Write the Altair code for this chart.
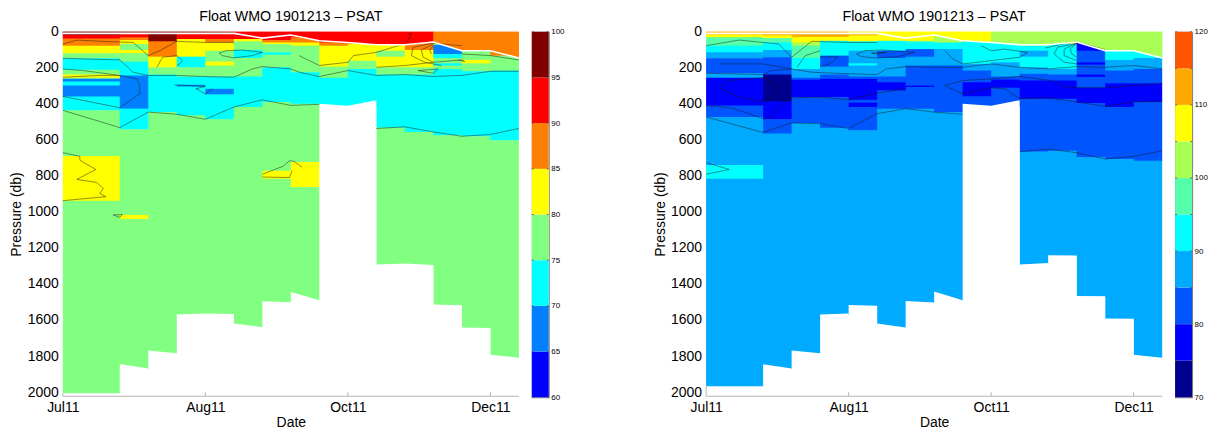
import altair as alt
import pandas as pd

FONT = "Liberation Sans"
TITLE = "Float WMO 1901213 \u2013 PSAT"
TICK_POS = [0, 5, 10, 15]
TICK_LABELS = ["Jul11", "Aug11", "Oct11", "Dec11"]
Y_TICKS = list(range(0, 2001, 200))
COL_STARTS = [0, 2, 3, 4, 5, 6, 7, 8, 9, 10, 11, 12, 13, 14, 15]
COL_ENDS = [2, 3, 4, 5, 6, 7, 8, 9, 10, 11, 12, 13, 14, 15, 16]

LEFT_LEVELS = [60, 65, 70, 75, 80, 85, 90, 95]
LEFT_COLORS = ["#0000ff", "#0080ff", "#00ffff", "#80ff80", "#ffff00", "#ff8000", "#ff0000", "#800000"]
RIGHT_LEVELS = [70, 75, 80, 85, 90, 95, 100, 105, 110, 115]
RIGHT_COLORS = ["#00008f", "#0000ff", "#0055ff", "#00aaff", "#00ffff", "#55ffaa", "#aaff55", "#ffff00", "#ffaa00", "#ff5500"]

# per column: bottom pressure of each colour layer, and the layer's 5-unit bin
LEFT_BOTTOMS = [
    [18, 37, 77, 119, 147, 211, 237, 255, 261, 276, 298, 358, 435, 688, 937, 2020],
    [13, 31, 46, 68, 101, 119, 165, 242, 426, 540, 1015, 1037, 2020],
    [53, 138, 197, 237, 445, 2020],
    [13, 40, 138, 197, 248, 294, 303, 463, 2020],
    [40, 59, 105, 165, 187, 248, 316, 347, 485, 2020],
    [40, 53, 101, 145, 248, 417, 2020],
    [46, 59, 68, 114, 127, 197, 389, 770, 815, 2020],
    [31, 59, 77, 224, 399, 722, 860, 2020],
    [59, 77, 193, 255, 2020],
    [59, 68, 160, 206, 2020],
    [72, 105, 138, 197, 237, 530, 2020],
    [59, 101, 197, 237, 555, 2020],
    [59, 73, 123, 145, 175, 187, 206, 573, 2020],
    [105, 156, 175, 219, 579, 2020],
    [132, 215, 601, 2020],
]
LEFT_BINS = [
    [95, 90, 85, 80, 75, 70, 75, 80, 75, 65, 70, 65, 70, 75, 80, 75],
    [95, 90, 85, 80, 75, 80, 75, 70, 65, 70, 75, 80, 75],
    [95, 85, 80, 75, 70, 75],
    [95, 90, 80, 70, 75, 70, 65, 70, 75],
    [90, 85, 80, 75, 80, 75, 70, 65, 70, 75],
    [90, 80, 75, 70, 75, 70, 75],
    [90, 85, 80, 75, 70, 75, 70, 75, 80, 75],
    [90, 85, 80, 75, 70, 75, 80, 75],
    [90, 85, 80, 75, 70],
    [90, 85, 80, 75, 70],
    [90, 80, 75, 80, 75, 70, 75],
    [90, 85, 80, 75, 70, 75],
    [85, 75, 65, 70, 75, 70, 75, 70, 75],
    [85, 75, 80, 75, 70, 75],
    [85, 75, 70, 75],
]
RIGHT_BOTTOMS = [
    [15, 31, 77, 114, 147, 230, 255, 408, 472, 738, 815, 2020],
    [20, 35, 59, 101, 141, 237, 386, 485, 564, 2020],
    [28, 59, 77, 145, 206, 255, 266, 362, 505, 2020],
    [28, 50, 132, 193, 237, 261, 362, 532, 2020],
    [20, 53, 105, 175, 187, 248, 261, 377, 393, 417, 546, 2020],
    [50, 105, 145, 248, 279, 325, 426, 2020],
    [50, 59, 96, 138, 187, 298, 306, 426, 2020],
    [15, 59, 96, 187, 445, 2020],
    [33, 178, 215, 279, 358, 2020],
    [50, 169, 248, 265, 310, 2020],
    [77, 105, 138, 197, 233, 270, 371, 663, 2020],
    [68, 206, 237, 270, 371, 660, 2020],
    [59, 105, 169, 182, 237, 250, 310, 395, 695, 2020],
    [105, 156, 215, 285, 417, 705, 2020],
    [105, 114, 145, 206, 285, 389, 715, 2020],
]
RIGHT_BINS = [
    [110, 105, 95, 90, 85, 80, 85, 75, 80, 85, 90, 85],
    [110, 105, 95, 90, 85, 80, 70, 75, 80, 85],
    [110, 105, 100, 95, 90, 85, 80, 75, 80, 85],
    [110, 105, 90, 80, 85, 80, 75, 80, 85],
    [110, 105, 90, 85, 90, 85, 80, 75, 80, 75, 80, 85],
    [105, 90, 80, 85, 80, 75, 80, 85],
    [105, 95, 90, 80, 85, 80, 75, 80, 85],
    [105, 100, 90, 85, 80, 85],
    [105, 90, 85, 80, 75, 80],
    [100, 90, 85, 80, 75, 80],
    [100, 90, 85, 90, 85, 80, 75, 80, 85],
    [100, 90, 85, 80, 75, 80, 85],
    [100, 75, 80, 75, 80, 75, 80, 75, 80, 85],
    [100, 90, 85, 80, 75, 80, 85],
    [100, 95, 90, 85, 80, 75, 80, 85],
]

# lower edge of the sampled water column (and the data gap): left and right end of each column
LEFT_MASK_A = [2003, 1841, 1766, 1567, 1562, 1617, 1494, 1442, 399, 410, 1290, 1284, 1512, 1639, 1790]
LEFT_MASK_B = [2003, 1866, 1781, 1562, 1564, 1637, 1499, 1488, 410, 379, 1284, 1293, 1516, 1641, 1806]
RIGHT_MASK_A = [1965, 1843, 1766, 1567, 1514, 1617, 1492, 1440, 399, 410, 1290, 1238, 1464, 1589, 1790]
RIGHT_MASK_B = [1965, 1866, 1781, 1562, 1518, 1639, 1501, 1488, 410, 379, 1282, 1240, 1466, 1591, 1806]

# white mixed-layer line
MLD_X = list(range(17))
MLD_P = [9, 9, 9, 9, 9, 9, 9, 35, 18, 50, 59, 72, 72, 57, 105, 105, 145]
LEFT_SURFACE = [(0, 6, 95), (6, 13, 90), (13, 16, 85)]
RIGHT_SURFACE = [(0, 5, 110), (5, 10, 105), (10, 16, 100)]

LEFT_CONTOURS = [
    ([0, 2, 3, 4, 5, 6, 7, 8, 9], [435, 531, 445, 457, 485, 417, 377, 408, 402]),
    ([11, 12, 13, 14, 15, 16], [536, 527, 555, 579, 569, 536]),
    ([0, 2, 2.47, 3, 4, 5, 6, 6.65, 7, 8, 8.3, 9, 10, 11, 12, 13, 14, 15, 16],
     [147, 156, 224, 242, 242, 248, 252, 206, 193, 206, 224, 248, 215, 242, 237, 248, 242, 219, 219]),
    ([0, 2, 2.7, 2.7, 2.6, 2], [358, 421, 344, 298, 261, 242]),
    ([0, 0.5, 1.65, 2.47, 3], [68, 46, 55, 59, 132]),
    ([3, 3.4, 4, 5, 6], [132, 105, 53, 59, 59]),
    ([3.3, 3.5, 4, 4.2, 4.1, 4], [197, 141, 132, 160, 178, 187]),
    ([5.49, 5.72, 6.3, 7, 6.65, 6, 5.6, 5.49], [118, 105, 101, 114, 132, 145, 132, 118]),
    ([3.92, 5, 4.67, 5, 5.26], [294, 303, 316, 344, 316]),
    ([0, 0.72, 2], [206, 215, 242]),
    ([0, 1.3, 2], [252, 242, 242]),
    ([0, 0.6, 0.6, 1.16, 0.49, 1.19, 1.42, 1.3, 1.51, 0], [670, 690, 712, 763, 818, 835, 868, 896, 914, 936]),
    ([1.77, 2.09, 2, 1.77], [1015, 1013, 1028, 1015]),
    ([7, 7.73, 7.95, 8.11, 8.39], [790, 745, 715, 718, 750]),
    ([7, 7.95, 8.05], [805, 808, 770]),
    ([8.29, 9, 10, 10.2, 11, 11.77, 12], [132, 187, 169, 132, 114, 77, 68]),
    ([11, 12, 13, 14, 14.1, 13.87], [197, 187, 169, 156, 165, 156]),
    ([12.47, 13.17, 13, 12.47], [215, 206, 230, 215]),
    ([13, 12.87, 12.93], [77, 101, 123]),
    ([13, 12.58, 12.64, 13], [68, 101, 141, 169]),
    ([13, 12.29, 12.23, 12.7, 13.28], [62, 86, 132, 169, 187]),
    ([12.12, 12.23, 12.06], [13, 10, 59]),
    ([13, 14], [64, 77]),
    ([14, 15, 16], [123, 132, 156]),
]
RIGHT_CONTOURS = [
    ([0, 2, 3, 4, 5, 6, 7, 8, 9], [472, 558, 505, 509, 536, 454, 426, 445, 457]),
    ([11, 12, 13, 14, 15, 16], [371, 366, 389, 413, 389, 386]),
    ([11, 12, 13, 14, 15, 16], [665, 650, 670, 705, 690, 660]),
    ([2, 2.26, 2.55, 3, 4, 5, 6, 7], [481, 476, 417, 366, 362, 377, 340, 316]),
    ([0, 0.92, 2], [408, 423, 481]),
    ([0.45, 0.8, 2, 2.43, 2.49, 2.31, 2, 1.15, 0.45], [310, 270, 255, 288, 325, 362, 386, 362, 310]),
    ([0, 2, 2.3, 3, 3.7, 5, 6, 6.33, 7, 8, 9, 10, 11, 12, 13, 14, 15, 16],
     [230, 237, 215, 206, 224, 233, 237, 206, 193, 197, 197, 178, 197, 206, 193, 197, 187, 206]),
    ([0.45, 2, 3], [178, 178, 206]),
    ([0, 1.15, 2, 2.55, 3], [77, 46, 59, 68, 141]),
    ([3, 3.7, 5, 6], [141, 53, 59, 59]),
    ([5.28, 5.57, 6.15, 7.31, 6.73, 6, 5.45, 5.28], [123, 105, 101, 114, 138, 145, 138, 123]),
    ([5.8, 6.33, 6.03, 5.8], [118, 114, 123, 118]),
    ([4, 4.64, 4.35, 4], [141, 138, 178, 193]),
    ([3.19, 3.48, 4], [197, 132, 105]),
    ([8.37, 8.66, 9, 10, 11, 11.28, 10.47, 10, 9.65], [105, 151, 178, 160, 141, 114, 96, 105, 77]),
    ([8.37, 9, 10, 11, 12.09, 12.67, 14, 16], [298, 270, 261, 248, 270, 310, 310, 285]),
    ([8.37, 9, 10, 10.47, 11], [298, 344, 310, 316, 371]),
    ([13, 12.33, 12.21, 12.56, 13], [64, 86, 123, 169, 178]),
    ([13, 12.56, 12.56, 13], [64, 96, 132, 160]),
    ([13, 12.77, 12.83, 13], [64, 96, 123, 141]),
    ([11.9, 12.5, 13, 14], [90, 68, 55, 100]),
    ([0, 0.81, 0], [725, 763, 790]),
]

X_SCALE = alt.Scale(domain=[0, 16], nice=False, zero=False)
Y_SCALE = alt.Scale(domain=[2020, 0], nice=False, zero=False)
GRAY = "#b4b4b4"
X_ENC = alt.X("x:Q", scale=X_SCALE)
Y_ENC = alt.Y("p:Q", scale=Y_SCALE)


def panel(bottoms, bins, mask_a, mask_b, surface, contours, levels, colors, floor):
    cells = []
    for c0, c1, bots, vals, ma, mb in zip(COL_STARTS, COL_ENDS, bottoms, bins, mask_a, mask_b):
        top = 0
        limit = max(ma, mb) + 3
        for b, v in zip(bots, vals):
            # a hair of overlap hides antialiasing seams between neighbouring cells
            if top < limit:
                cells.append({"x": c0, "x2": min(c1 + 0.03, 16), "p": top, "p2": min(b + 3, limit), "v": v})
            top = b
    color = alt.Color("v:O", scale=alt.Scale(domain=levels, range=colors), legend=None)
    label_expr = " : ".join(f"datum.value == {p} ? '{t}'" for p, t in zip(TICK_POS, TICK_LABELS)) + " : ''"
    base_x = alt.X("x:Q", scale=X_SCALE, axis=alt.Axis(
        values=TICK_POS, labelExpr=label_expr, title="Date", grid=False, ticks=False,
        domain=False, labelFontSize=14, titleFontSize=14,
        labelPadding=4, titlePadding=1, labelFont=FONT, titleFont=FONT, labelColor="#000", titleColor="#000",
        titleFontWeight="normal", labelOverlap=False, labelFlush=False))
    base_y = alt.Y("p:Q", scale=Y_SCALE, axis=alt.Axis(
        title="Pressure (db)", grid=False, ticks=False, domain=False, labels=False,
        titleFontSize=14, titlePadding=39, titleFont=FONT, titleColor="#000", titleFontWeight="normal"))

    rects = alt.Chart(pd.DataFrame(cells)).mark_rect().encode(
        x=base_x, x2="x2:Q", y=base_y, y2="p2:Q", color=color)

    y_labels = alt.Chart(pd.DataFrame({"p": Y_TICKS, "t": [str(v) for v in Y_TICKS]})).mark_text(
        align="right", baseline="middle", font=FONT, fontSize=14, color="#000").encode(
        x=alt.value(-4), y=Y_ENC, text="t:N")

    surf = []
    for s0, s1, v in surface:
        for x, p in zip(MLD_X, MLD_P):
            if s0 <= x <= s1:
                surf.append({"x": x, "p": 0, "p2": p, "v": v, "seg": s0})
    surf_layer = alt.Chart(pd.DataFrame(surf)).mark_area().encode(
        x=X_ENC, y=Y_ENC, y2="p2:Q", color=color, detail="seg:N")

    mask_rows = []
    for c0, c1, a, b in zip(COL_STARTS, COL_ENDS, mask_a, mask_b):
        mask_rows.append({"x": c0, "p": a, "p2": 2020, "seg": c0})
        mask_rows.append({"x": c1, "p": b, "p2": 2020, "seg": c0})
    mask_layer = alt.Chart(pd.DataFrame(mask_rows)).mark_area().encode(
        x=X_ENC, y=Y_ENC, y2="p2:Q", detail="seg:N", color=alt.value("white"))

    rows = []
    for k, (xs, ps) in enumerate(contours):
        for i, (x, p) in enumerate(zip(xs, ps)):
            rows.append({"x": x, "p": p, "k": k, "i": i})
    lines = alt.Chart(pd.DataFrame(rows)).mark_line(color="#1a1a1a", strokeWidth=0.6, opacity=0.8).encode(
        x=X_ENC, y=Y_ENC, detail="k:N", order="i:Q")

    mld = alt.Chart(pd.DataFrame({"x": MLD_X, "p": MLD_P})).mark_line(color="white", strokeWidth=1.6).encode(
        x=X_ENC, y=Y_ENC)

    tick_df = pd.DataFrame({"x": TICK_POS[1:], "p": [2020] * 3, "p2": [1998] * 3})
    ticks = alt.Chart(tick_df).mark_rule(color=GRAY).encode(x=X_ENC, y=Y_ENC, y2="p2:Q")
    edge = alt.Chart(pd.DataFrame({"x": [0], "p": [2020], "p2": [floor]})).mark_rule(color=GRAY).encode(
        x=X_ENC, y=Y_ENC, y2="p2:Q")
    base = alt.Chart(pd.DataFrame({"x": [0], "x2": [16], "p": [2020]})).mark_rule(color=GRAY, strokeWidth=1.2).encode(
        x=X_ENC, x2="x2:Q", y=Y_ENC)

    return alt.layer(rects, surf_layer, mask_layer, lines, mld, ticks, edge, base, y_labels).properties(
        width=458, height=366,
        title=alt.TitleParams(TITLE, font=FONT, fontSize=14.3, fontWeight="normal", color="#000", offset=-1, dy=-2, anchor="middle"),
    )


def colorbar(levels, colors):
    vals = levels + [levels[-1] + 5]
    df = pd.DataFrame({"v": levels, "v2": [v + 5 for v in levels], "x": [0] * len(levels), "x2": [1] * len(levels)})
    y_scale = alt.Scale(domain=[vals[0], vals[-1]], nice=False, zero=False)
    bars = alt.Chart(df).mark_rect().encode(
        x=alt.X("x:Q", scale=alt.Scale(domain=[0, 1]), axis=None),
        x2="x2:Q",
        y=alt.Y("v:Q", scale=y_scale, axis=alt.Axis(
            orient="right", values=vals, title=None, grid=False, ticks=False, domain=False,
            labelFontSize=8, labelFont=FONT, labelColor="#000", labelPadding=2, labelOverlap=False)),
        y2="v2:Q",
        color=alt.Color("v:O", scale=alt.Scale(domain=levels, range=colors), legend=None),
    )
    marks = pd.DataFrame({"v": vals * 2, "x": [0] * len(vals) + [0.88] * len(vals), "x2": [0.12] * len(vals) + [1] * len(vals)})
    tick = alt.Chart(marks).mark_rule(color="#555555", strokeWidth=0.8).encode(
        x=alt.X("x:Q", scale=alt.Scale(domain=[0, 1]), axis=None), x2="x2:Q", y=alt.Y("v:Q", scale=y_scale))
    return alt.layer(bars, tick).properties(width=17, height=367, view=alt.ViewConfig(stroke="#777777", strokeWidth=1))


left = alt.hconcat(
    panel(LEFT_BOTTOMS, LEFT_BINS, LEFT_MASK_A, LEFT_MASK_B, LEFT_SURFACE, LEFT_CONTOURS, LEFT_LEVELS, LEFT_COLORS, 2003),
    colorbar(LEFT_LEVELS, LEFT_COLORS), spacing=8).resolve_scale(color="independent")
right = alt.hconcat(
    panel(RIGHT_BOTTOMS, RIGHT_BINS, RIGHT_MASK_A, RIGHT_MASK_B, RIGHT_SURFACE, RIGHT_CONTOURS, RIGHT_LEVELS, RIGHT_COLORS, 1965),
    colorbar(RIGHT_LEVELS, RIGHT_COLORS), spacing=8).resolve_scale(color="independent")

chart = alt.hconcat(left, right, spacing=89).resolve_scale(color="independent").properties(
    padding={"left": 2, "top": 0, "right": 0, "bottom": 0}, background="white"
).configure_view(stroke=None)
chart.save("out.html", embed_options={"renderer": "svg", "actions": False})
